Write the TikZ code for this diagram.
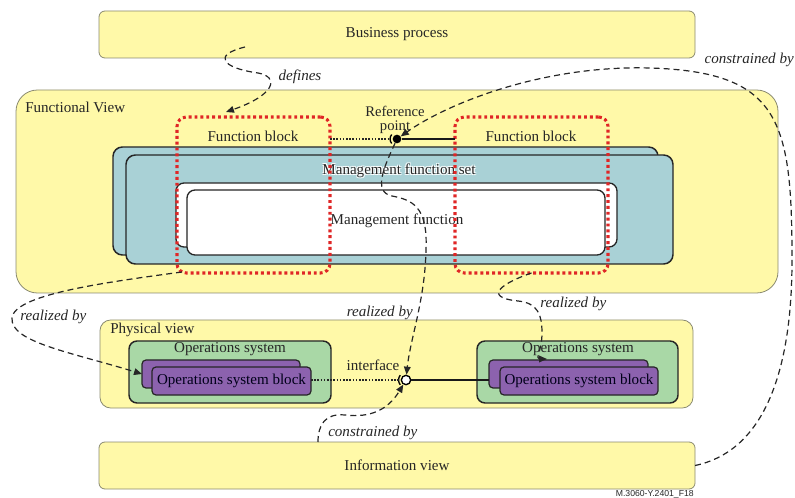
\documentclass[tikz,border=0pt]{standalone}
\usepackage{fontspec}
\setmainfont{Liberation Serif}
\newfontfamily\tagfont{Liberation Sans}
\usetikzlibrary{arrows.meta}
\definecolor{ylw}{HTML}{FFF9A8}
\definecolor{ybord}{HTML}{8A8A70}
\definecolor{blu}{HTML}{A9D1D6}
\definecolor{grn}{HTML}{A9D8A6}
\definecolor{prp}{HTML}{8C62AE}
\definecolor{redd}{HTML}{E02626}
\definecolor{txt}{HTML}{262626}
\newcommand\mainsz{\fontsize{11.3}{13}\selectfont}
\newcommand\halotext[1]{\leavevmode\rlap{\textcolor{white}{\kern.7pt\raisebox{.7pt}{#1}}}\rlap{\textcolor{white}{\kern-.7pt\raisebox{.7pt}{#1}}}\rlap{\textcolor{white}{\kern.7pt\raisebox{-.7pt}{#1}}}\rlap{\textcolor{white}{\kern-.7pt\raisebox{-.7pt}{#1}}}#1}
\begin{document}
\begin{tikzpicture}[x=0.75pt,y=-0.75pt,
  sz/.style 2 args={minimum width=#1*0.75pt, minimum height=#2*0.75pt},
  boxbase/.style={rectangle, inner sep=0pt, outer sep=0pt, font=\mainsz, text=txt},
  ybox/.style={boxbase, draw=ybord, fill=ylw, line width=0.6pt},
  bbox/.style={boxbase, draw=black!85, fill=blu, line width=1.1pt, rounded corners=7pt},
  wbox/.style={boxbase, draw=black!85, fill=white, line width=1pt, rounded corners=6pt},
  gbox/.style={boxbase, draw=black!85, fill=grn, line width=1.1pt, rounded corners=6pt},
  pbox/.style={boxbase, draw=black!85, fill=prp, line width=0.9pt, rounded corners=3pt, text=black!90!blue},
  fblock/.style={boxbase, draw=redd, line width=2.3pt, dash pattern=on 2.2pt off 2.2pt, rounded corners=7pt},
  lbl/.style={font=\mainsz, text=txt, inner sep=0pt},
  ilbl/.style={font=\mainsz\itshape, text=txt, inner sep=0pt},
  rel/.style={draw=black!85, line width=0.9pt, dash pattern=on 4.5pt off 3pt, -{Triangle[length=6pt,width=5pt]}},
  dotline/.style={draw=black!85, line width=0.8pt, dash pattern=on 1.2pt off 1.2pt},
  solline/.style={draw=black!90, line width=1.6pt},
]
\useasboundingbox (0,0) rectangle (795,498);

% Business process
\node[ybox, rounded corners=4.5pt, sz={596}{47}] (bp) at (397,34.5) {Business process};

% Functional view
\node[ybox, rounded corners=16pt, sz={762}{203}] (fv) at (397,191.5) {};
\node[lbl, anchor=west] (fvl) at (25,107) {Functional View};

% Management function set
\node[bbox, sz={545}{108}] (mfsb) at (385.5,201) {};
\node[bbox, sz={547}{109}] (mfs) at (399.5,209.5) {};
\node[wbox, sz={441}{64}] (mfb) at (396.5,215) {};
\node[wbox, sz={418}{65}] (mf) at (396,222.5) {};
\node[lbl] (mfst) at (399,171) {\halotext{Management function set}};
\node[lbl] (mft) at (397,221) {\halotext{Management function}};

% Function blocks
\node[fblock, sz={153}{156}] (frL) at (253.5,195) {};
\node[fblock, sz={153}{156}] (frR) at (531.5,195) {};
\node[lbl] (fbL) at (253,136) {Function block};
\node[lbl] (fbR) at (531,136) {Function block};

% Reference point
\node[circle, fill=black, inner sep=0pt, minimum size=6.5pt] (rp) at (397,139) {};
\node[lbl, align=center, font=\fontsize{11}{10.5}\selectfont] (rpt) at (395,120) {Reference\\point};
\draw[line width=1pt] ([shift={(140:5.2pt)}]rp.center) arc[start angle=140, end angle=220, radius=5.2pt];
\draw[dotline] (frL.east |- rp) -- ([xshift=-5pt]rp.center);
\draw[solline] (rp) -- (frR.west |- rp);

% Physical view
\node[ybox, rounded corners=8pt, sz={593}{88}] (pv) at (396.5,364) {};
\node[lbl, anchor=west] (pvl) at (110,330) {Physical view};

\node[gbox, sz={202}{62}] (osL) at (230,372) {};
\node[lbl] (osLt) at (230,349) {Operations system};
\node[pbox, sz={158}{28}] (pbL) at (221,374) {};
\node[pbox, sz={159}{28}] (pfL) at (231.5,381) {Operations system block};

\node[gbox, sz={201}{62}] (osR) at (577.5,372) {};
\node[lbl] (osRt) at (578,349) {Operations system};
\node[pbox, sz={159}{28}] (pbR) at (568.5,374) {};
\node[pbox, sz={158}{28}] (pfR) at (579,381) {Operations system block};

% Interface
\node[circle, draw=black, fill=white, line width=1pt, inner sep=0pt, minimum size=7pt] (ifc) at (406,380) {};
\draw[line width=1pt] ([shift={(140:5.6pt)}]ifc.center) arc[start angle=140, end angle=220, radius=5.6pt];
\node[lbl] (ifct) at (373,365) {interface};
\draw[dotline] (pfL.east |- ifc) -- ([xshift=-5.5pt]ifc.center);
\draw[solline] (ifc) -- (pbR.west |- ifc);

% Information view
\node[ybox, rounded corners=4.5pt, sz={596}{47}] (iv) at (397,465.5) {Information view};

\node[font=\tagfont\fontsize{6.5}{7}\selectfont, text=txt, inner sep=0pt, anchor=east] (tag) at (694,494) {M.3060-Y.2401\_F18};

% Connectors
\coordinate (d0) at (245,47);
\coordinate (d1) at (226,112);
\draw[rel] (d0) .. controls (212,55) and (222,68) .. (258,73) .. controls (280,77) and (275,95) .. (d1);
\node[ilbl] (deft) at (300,77) {defines};

\draw[rel] (iv.east) .. controls (760,452) and (792,380) .. (792,260) .. controls (792,120) and (780,72) .. (650,68) .. controls (540,65) and (445,105) .. (rp);
\node[ilbl, anchor=east] (cb1) at (794,60) {constrained by};

\draw[rel] (rp) .. controls (385,165) and (372,192) .. (392,196) .. controls (412,200) and (428,206) .. (426,250) .. controls (425,300) and (410,340) .. (ifc);
\node[ilbl, anchor=east] (rb2) at (413,313) {realized by};

\coordinate (l0) at (182,272);
\draw[rel] (l0) .. controls (100,283) and (14,295) .. (12,318) .. controls (10,342) and (70,352) .. (pbL.west);
\node[ilbl, anchor=west] (rb1) at (20,317) {realized by};

\coordinate (r1) at (547,359);
\draw[rel] (frR.south) .. controls (505,282) and (480,297) .. (518,301) .. controls (538,303) and (542,315) .. (542,333) .. controls (542,350) and (535,359) .. (r1);
\node[ilbl, anchor=west] (rb3) at (540,304) {realized by};

\coordinate (c0) at (318,442);
\draw[rel] (c0) .. controls (318,425) and (325,413) .. (345,415) .. controls (370,418) and (388,410) .. (ifc);
\node[ilbl, anchor=west] (cb2) at (328,433) {constrained by};
\end{tikzpicture}
\end{document}
